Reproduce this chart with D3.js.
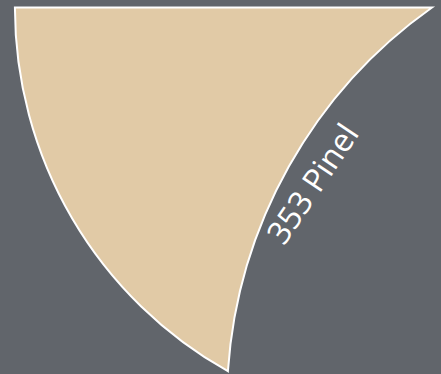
<!DOCTYPE html>
<html>
<head>
<meta charset="utf-8">
<script src="https://cdn.jsdelivr.net/npm/d3@7"></script>
<style>
  html, body { margin: 0; padding: 0; background: #61656b; }
  svg { display: block; }
</style>
</head>
<body>
<script>
// ---- data ----
const setNames = ["Ensemble", "Pinel"];
const setSizes = [260, 353];
const labelSet = 1; // index of the labelled set

// ---- layout ----
const width = 441, height = 374;
const colors = ["#e1caa6", "#61656b"];
const bg = "#61656b";

const rScale = d3.scaleSqrt().domain([0, d3.max(setSizes)]).range([0, 486]);
const rA = rScale(setSizes[0]);
const rB = rScale(setSizes[1]);

// zoomed view: centre of the first set at the top-right corner
const cA = [width - 9, 7.5];
const phi = Math.atan2(397, 281);
const cB = [cA[0] + rB * Math.cos(phi), cA[1] + rB * Math.sin(phi)];

// intersection of the two circles (lower point)
function circleIntersect(c1, r1, c2, r2) {
  const dx = c2[0] - c1[0], dy = c2[1] - c1[1];
  const d = Math.hypot(dx, dy);
  const a = (r1 * r1 - r2 * r2 + d * d) / (2 * d);
  const h = Math.sqrt(Math.max(0, r1 * r1 - a * a));
  const ux = dx / d, uy = dy / d;
  const px = c1[0] + a * ux, py = c1[1] + a * uy;
  return [[px - h * uy, py + h * ux], [px + h * uy, py - h * ux]];
}
const pts = circleIntersect(cA, rA, cB, rB);
const tip = pts[0][1] > pts[1][1] ? pts[0] : pts[1];

// where the horizontal through cA meets circle B (leftmost)
const dyTop = cA[1] - cB[1];
const topX = cB[0] - Math.sqrt(Math.max(0, rB * rB - dyTop * dyTop));
const pTop = [topX, cA[1]];

const svg = d3.select("body").append("svg")
  .attr("width", width).attr("height", height);

svg.append("rect").attr("width", width).attr("height", height).attr("fill", bg);

// shape of set A outside set B, below the axis line
const p = d3.path();
p.moveTo(cA[0] - rA, cA[1]);
p.lineTo(pTop[0], pTop[1]);
const angTopB = Math.atan2(pTop[1] - cB[1], pTop[0] - cB[0]);
const angTipB = Math.atan2(tip[1] - cB[1], tip[0] - cB[0]);
p.arc(cB[0], cB[1], rB, angTopB, angTipB, true);
const angTipA = Math.atan2(tip[1] - cA[1], tip[0] - cA[0]);
p.arc(cA[0], cA[1], rA, angTipA, Math.PI, false);
p.closePath();

svg.append("path")
  .attr("d", p.toString())
  .attr("fill", colors[0])
  .attr("stroke", "#ffffff")
  .attr("stroke-width", 2)
  .attr("stroke-linejoin", "miter");

// label of set B, placed along its arc
const labAng = Math.atan2(-221, -401);
const labR = rB - 28;
const lx = cB[0] + labR * Math.cos(labAng);
const ly = cB[1] + labR * Math.sin(labAng);
svg.append("text")
  .attr("transform", `translate(${lx},${ly}) rotate(-56)`)
  .attr("text-anchor", "middle")
  .attr("dominant-baseline", "central")
  .attr("fill", "#ffffff")
  .attr("font-family", "'Open Sans', sans-serif")
  .attr("font-size", 32)
  .text(`${setSizes[labelSet]} ${setNames[labelSet]}`);
</script>
</body>
</html>
